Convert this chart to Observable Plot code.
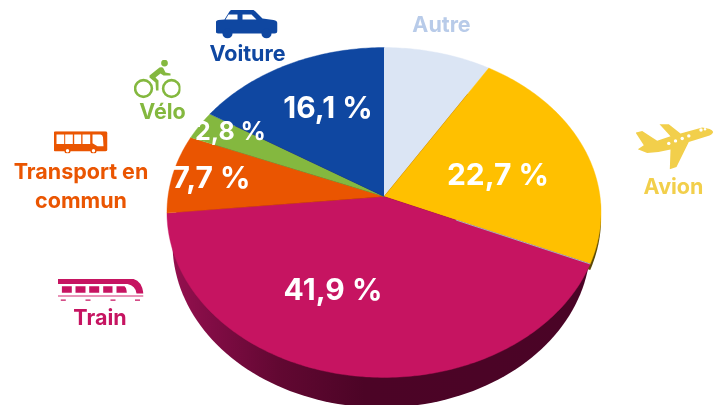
<!DOCTYPE html>
<html><head><meta charset="utf-8">
<script src="https://cdn.jsdelivr.net/npm/d3@7"></script>
<script src="https://cdn.jsdelivr.net/npm/@observablehq/plot@0.6"></script>
<style>html,body{margin:0;padding:0;background:#fff;overflow:hidden}svg{display:block}</style>
</head><body><div id="chart"></div>
<script>
// Data, clockwise from 12 o'clock
const categories = ["Autre", "Avion", "Train", "Transport en commun", "Vélo", "Voiture"];
const shares = [8.8, 22.7, 41.9, 7.7, 2.8, 16.1];
const shownValues = ["", "22,7 %", "41,9 %", "7,7 %", "2,8 %", "16,1 %"];
const sliceColors = ["#dbe5f4", "#ffc000", "#c61461", "#ea5501", "#84b83f", "#0f47a1"];
const labelColors = ["#b8cbe9", "#f2cf4b", "#c61461", "#ea5501", "#84b83f", "#0f47a1"];

// Pie perspective (plot units = px)
const apex = [383.5, 196], B = 216, A = 163.4, k = 0.097;
const project = (pct, dx = 0, dy = 0) => {
  const t = pct / 100 * 2 * Math.PI, u = Math.sin(t), v = Math.cos(t), d = 1 + k * v;
  return [apex[0] + B * u / d + dx, apex[1] - A * v / d + dy];
};
let acc = 0;
const spans = shares.map(s => { const a = acc; acc += s; return [a, acc]; });
const wedge = (name, [a, b], dx = 0, dy = 0) => {
  const pts = [{name, x: apex[0] + dx, y: apex[1] + dy}];
  const n = Math.ceil((b - a) * 4);
  for (let i = 0; i <= n; i++) { const [x, y] = project(a + (b - a) * i / n, dx, dy); pts.push({name, x, y}); }
  return pts;
};
const slices = categories.flatMap((c, i) => wedge(c, spans[i]));
const avionWall = wedge("wall", spans[1], 0, 6);
const wall = d3.range(0, 361, 2).map(deg => ({
  x: 381 + 209 * Math.cos(deg * Math.PI / 180),
  y: 243 + 164 * Math.sin(deg * Math.PI / 180)
}));
const edgeEnd = project(spans[1][1]);
const edge = [{x1: apex[0] + (edgeEnd[0] - apex[0]) * 0.35, y1: apex[1] + (edgeEnd[1] - apex[1]) * 0.35, x2: edgeEnd[0], y2: edgeEnd[1]}];

// Text placement
const valueLabels = [
  {t: shownValues[1], x: 497.5, y: 175, s: 30},
  {t: shownValues[2], x: 332.5, y: 290, s: 30},
  {t: shownValues[3], x: 211, y: 178, s: 30},
  {t: shownValues[4], x: 230, y: 131, s: 25},
  {t: shownValues[5], x: 327.5, y: 108, s: 30}
];
const catLabels = [
  {t: "Autre", x: 441, y: 25, c: 0},
  {t: "Avion", x: 673, y: 187, c: 1},
  {t: "Train", x: 99.5, y: 318, c: 2},
  {t: "Transport en", x: 80.5, y: 172, c: 3},
  {t: "commun", x: 80.5, y: 201, c: 3},
  {t: "Vélo", x: 162, y: 112, c: 4},
  {t: "Voiture", x: 247, y: 54, c: 5}
];

// Icons
const svgUri = (w, h, body) => "data:image/svg+xml," + encodeURIComponent(
  `<svg xmlns="http://www.w3.org/2000/svg" width="${w}" height="${h}" viewBox="0 0 ${w} ${h}">${body}</svg>`);
const icons = [
  {x: 246, y: 23.5, w: 62, h: 29, src: svgUri(62, 29, `<g fill="#0f47a1"><path d="M0 14Q0 11 3 10.5L9 10L14 2Q15 0 18 0L36 0Q38 0 40 2L47 9L58 10.5Q62 11 62 14L62 21Q62 24 59 24L3 24Q0 24 0 21Z"/><circle cx="12" cy="24" r="5"/><circle cx="51" cy="24" r="5"/></g><path fill="#fff" d="M13 5L22 5L22 10L10 10ZM27 5L36 5L41 10L27 10Z"/>`)},
  {x: 156.5, y: 78.5, w: 47, h: 39, src: svgUri(47, 39, `<g fill="none" stroke="#84b83f" stroke-width="2.6"><circle cx="10" cy="29" r="8.4"/><circle cx="38" cy="29" r="8.4"/></g><g fill="#84b83f"><circle cx="31" cy="3.6" r="3.4"/><path d="M16 16L26 8Q29 7 30 9L32 13L37 14L37 16L30 16L27 14L22 18L25 21L25 31L22.5 31L22 23L16 18Z"/></g>`)},
  {x: 80, y: 141.7, w: 54, h: 22, src: svgUri(54, 22, `<rect x="0" y="0" width="54" height="20" rx="2" fill="#ea5501"/><path fill="#fff" d="M3 3.3H10.7V12.7H3ZM11.7 3.3H19.3V12.7H11.7ZM20.7 3.3H27.7V12.7H20.7ZM29 3.3H36.7V12.7H29ZM39 3.3H47Q49 3.3 49.5 6L50 15L44 15L39 12Z"/><g fill="#fff" stroke="#ea5501" stroke-width="1.4"><circle cx="14" cy="19.5" r="2.4"/><circle cx="40" cy="19.5" r="2.4"/></g>`)},
  {x: 100, y: 290, w: 86, h: 24, src: svgUri(86, 24, `<path fill="#c61461" d="M0 0L72 0Q84 0 86 15L79 15Q78 7 70 5.5L0 5.5Z"/><path fill="#c61461" d="M4.4 7.7H14.3V14.3H4.4ZM18 7.7H28V14.3H18ZM31.7 7.7H41.7V14.3H31.7ZM45.7 7.7H55V14.3H45.7ZM59 7.7H67Q69 9 69.3 14.3H59Z"/><path fill="#e26f9f" d="M0 16.7H86V18.3H0Z"/><path fill="#c61461" d="M3.3 21H8.3V22.3H3.3ZM28 21H33V22.3H28ZM53 21H58V22.3H53ZM77.5 21H82.5V22.3H77.5Z"/>`)},
  {x: 674, y: 146, w: 78, h: 46, src: svgUri(78, 46, `<path fill="#f2cf4b" d="M77.7 8.4Q76 5 66.7 4L45 10L33.3 .7L24 .7L35 12.7L21.7 17.3L6.7 7.4L0 9L8.3 21.7L2.3 25.7L11.7 29.4Q24 29 35 26L34.3 45.7L41 43.4L53.3 18.4L71.7 12.7Q77 11 77.7 8.4Z"/><g fill="#fff"><circle cx="33.3" cy="19.9" r="1.7"/><circle cx="40" cy="17.4" r="1.7"/><circle cx="46.7" cy="15" r="1.7"/><circle cx="53.3" cy="12.4" r="1.7"/><circle cx="65.5" cy="6.5" r="1.7"/><circle cx="69.5" cy="5.8" r="1.2"/></g>`)}
];

const font = "Inter, 'Open Sans', sans-serif";
const defs = () => {
  const d = d3.create("svg:defs");
  const g = d.append("linearGradient").attr("id", "wallGrad").attr("gradientUnits", "userSpaceOnUse")
    .attr("x1", 170).attr("x2", 600).attr("y1", 0).attr("y2", 0);
  [[0, "#96104f"], [0.1, "#800c44"], [0.25, "#620832"], [0.45, "#4c0426"], [1, "#4a0426"]]
    .forEach(([o, c]) => g.append("stop").attr("offset", o).attr("stop-color", c));
  return d.node();
};

const plot = Plot.plot({
  width: 723, height: 405, margin: 0,
  style: {fontFamily: font, background: "#fff", filter: "blur(0.45px)"},
  x: {domain: [0, 723], range: [0, 723], axis: null},
  y: {domain: [0, 405], range: [0, 405], axis: null},
  color: {domain: categories, range: sliceColors},
  marks: [
    defs,
    Plot.line(avionWall, {x: "x", y: "y", fill: "#5c4a05", stroke: "none"}),
    Plot.line(wall, {x: "x", y: "y", fill: "url(#wallGrad)", stroke: "none"}),
    Plot.line(slices, {x: "x", y: "y", z: "name", fill: "name", stroke: "name", strokeWidth: 0.4}),
    Plot.link(edge, {x1: "x1", y1: "y1", x2: "x2", y2: "y2", stroke: "#a9b0bb", strokeWidth: 1}),
    Plot.text(valueLabels, {x: "x", y: "y", text: "t", fontSize: "s", fontWeight: 700, fill: "#fff", textAnchor: "middle"}),
    Plot.text(catLabels, {x: "x", y: "y", text: "t", fontSize: 21.5, fontWeight: 700, fill: d => labelColors[d.c], textAnchor: "middle"}),
    Plot.image(icons, {x: "x", y: "y", width: "w", height: "h", src: "src"})
  ]
});
document.getElementById("chart").appendChild(plot);
</script></body></html>
